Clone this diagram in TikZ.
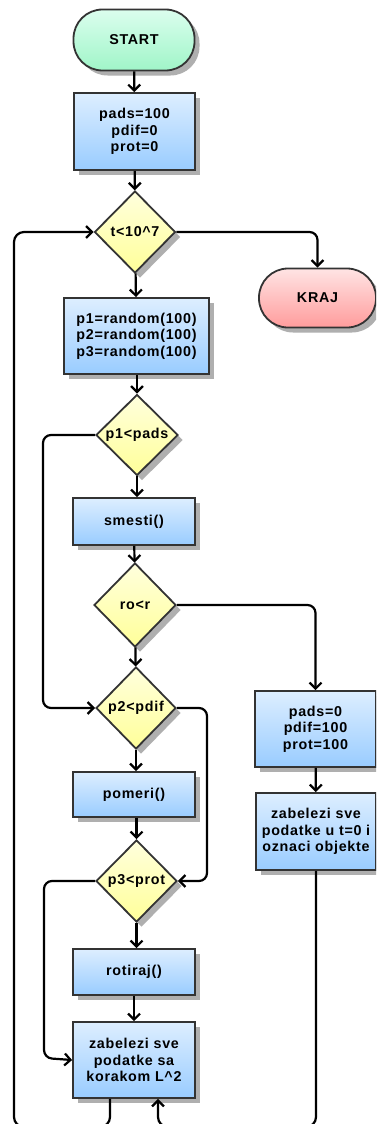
\documentclass[tikz,border=0pt]{standalone}
\usepackage{fontspec}
\setmainfont{Liberation Sans}[LetterSpace=5]
\usetikzlibrary{shapes.geometric,shadows,arrows.meta}
\definecolor{bordc}{HTML}{333333}
\definecolor{shadc}{HTML}{AFAFAF}
\definecolor{gtop}{HTML}{DCFEEE}
\definecolor{gbot}{HTML}{9FF5C8}
\definecolor{rtop}{HTML}{FFE4E4}
\definecolor{rbot}{HTML}{FF9C9C}
\definecolor{btop}{HTML}{DDEEFF}
\definecolor{bbot}{HTML}{99CCFF}
\definecolor{ytop}{HTML}{FFFFDD}
\definecolor{ybot}{HTML}{FFFF99}
\tikzset{
  base/.style={draw=bordc, line width=1.8pt, align=center, inner sep=0pt,
    font=\fontsize{14.3}{16.7}\selectfont\bfseries,
    drop shadow={shadow xshift=5pt, shadow yshift=-5pt, fill=shadc, opacity=1}},
  term/.style={base, rounded corners=29pt},
  greenterm/.style={term, top color=gtop, bottom color=gbot},
  redterm/.style={term, top color=rtop, bottom color=rbot},
  procbox/.style={base, rectangle, top color=btop, bottom color=bbot},
  decis/.style={base, diamond, aspect=1, top color=ytop, bottom color=ybot},
  conn/.style={line width=2.2pt, black, rounded corners=8pt},
  arr/.style={conn, -{Straight Barb[length=6pt,width=12pt]}}
}
\begin{document}
\begin{tikzpicture}[x=1pt,y=-1pt]
\clip (0,0) rectangle (376,1124);
\fill[white] (0,0) rectangle (376,1124);

\node[greenterm, minimum width=121pt, minimum height=61pt] (start) at (134,40) {START};
\node[procbox, minimum width=121pt, minimum height=77pt] (init) at (134.5,131.5) {pads=100\\pdif=0\\prot=0};
\node[decis, minimum width=81pt, minimum height=82pt] (tl) at (135,232) {t<10\textasciicircum 7};
\node[redterm, minimum width=117pt, minimum height=59pt] (kraj) at (317.5,298) {KRAJ};
\node[procbox, minimum width=145pt, minimum height=76pt] (rand) at (136.5,336) {p1=random(100)\\p2=random(100)\\p3=random(100)};
\node[decis, minimum width=82pt, minimum height=81pt] (dpa) at (137,435) {p1<pads};
\node[procbox, minimum width=122pt, minimum height=47pt] (smesti) at (134,521.5) {smesti()};
\node[decis, minimum width=82pt, minimum height=84pt] (dro) at (135,605) {ro<r};
\node[decis, minimum width=80pt, minimum height=82pt] (dpd) at (136,708) {p2<pdif};
\node[procbox, minimum width=121pt, minimum height=76pt] (reset) at (315.5,729) {pads=0\\pdif=100\\prot=100};
\node[procbox, minimum width=122pt, minimum height=45pt] (pomeri) at (134,794.5) {pomeri()};
\node[procbox, minimum width=120pt, minimum height=77pt] (zabo) at (316,831.5) {zabelezi sve\\podatke u t=0 i\\oznaci objekte};
\node[decis, minimum width=81pt, minimum height=82pt] (dpr) at (136.5,881) {p3<prot};
\node[procbox, minimum width=122pt, minimum height=46pt] (rot) at (134,972) {rotiraj()};
\node[procbox, minimum width=122pt, minimum height=76pt] (zabl) at (134,1060) {zabelezi sve\\podatke sa\\korakom L\textasciicircum 2};

\draw[arr] (start) -- (init);
\draw[arr] (init) -- (tl);
\draw[arr] (tl.east) -- (kraj.north |- tl.east) -- (kraj.north);
\draw[arr] (tl) -- (rand);
\draw[arr] (rand.south -| dpa.north) -- (dpa.north);
\draw[arr] (dpa.south) -- (smesti.north -| dpa.south);
\draw[arr] (smesti) -- (dro);
\draw[arr] (dro) -- (dpd);
\draw[arr] (dro.east) -- (reset.north |- dro.east) -- (reset.north);
\draw[arr] (dpa.west) -- (43,435) -- (43,708) -- (dpd.west);
\draw[arr] (dpd.east) -- (207,708) -- (207,881) -- (dpr.east);
\draw[arr] (reset) -- (zabo);
\draw[arr] (dpd.south) -- (pomeri.north -| dpd.south);
\draw[arr] (pomeri.south -| dpr.north) -- (dpr.north);
\draw[arr] (dpr.south) -- (rot.north -| dpr.south);
\draw[arr] (rot) -- (zabl);
\draw[arr] (dpr.west) -- (44,881) -- (44,1058) -- (zabl.west);
\coordinate (zl) at ([xshift=-24pt]zabl.south);
\coordinate (zr) at ([xshift=24pt]zabl.south);
\draw[arr, rounded corners=10pt] (zl) -- (110,1127) -- (14,1127) -- (14,232) -- (tl.west);
\draw[arr, rounded corners=10pt] (zabo.south) -- (316,1127) -- (158,1127) -- (zr);
\end{tikzpicture}
\end{document}
